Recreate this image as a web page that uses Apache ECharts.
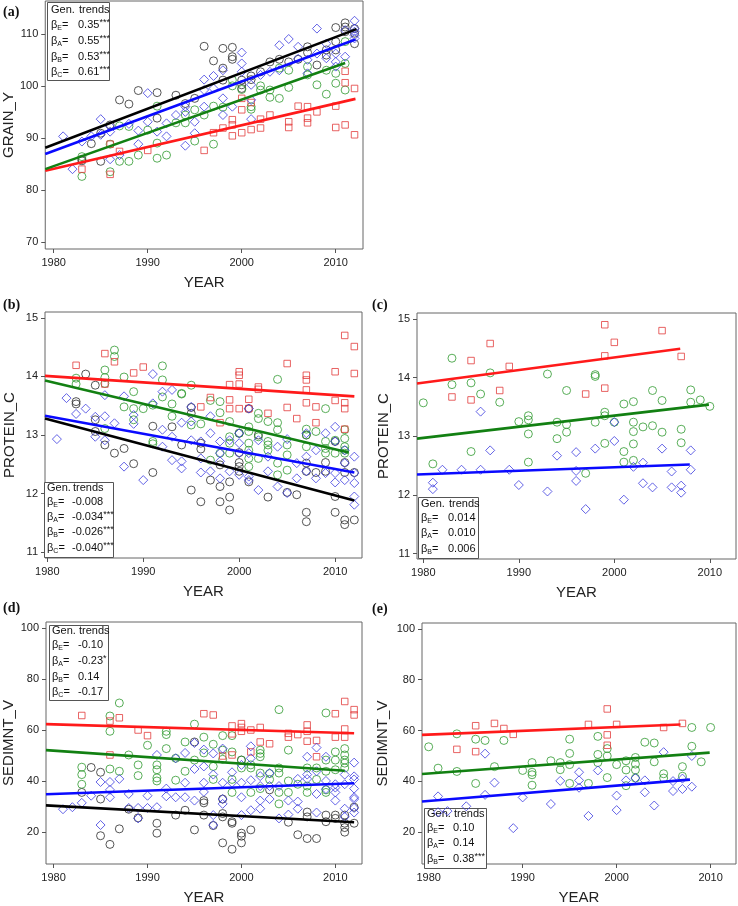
<!DOCTYPE html>
<html><head><meta charset="utf-8">
<script src="https://cdn.jsdelivr.net/npm/echarts@6/dist/echarts.min.js"></script>
<style>html,body{margin:0;padding:0;background:#fff}#c{width:738px;height:906px}</style>
</head><body><div id="c"></div>
<script>
// ---------- tick labels ----------
const xTicks = [1980, 1990, 2000, 2010];
const aYTicks = [70, 80, 90, 100, 110];
const bcYTicks = [11, 12, 13, 14, 15];
const deYTicks = [20, 40, 60, 80, 100];

// ---------- panel (a) GRAIN_Y ----------
const aBlack = [[1983,85.6],[1983,85.9],[1984,88.9],[1985,85.5],[1985,90.9],[1986,92.5],[1987,97.3],[1988,96.5],[1989,99.1],[1991,98.7],[1991,93.8],[1993,98.2],[1994,96.6],[1995,97.6],[1996,107.6],[1997,104.8],[1998,107.2],[1998,103.4],[1998,101.1],[1999,107.4],[1999,105.6],[1999,105.1],[2000,101.1],[2000,100.2],[2000,99.5],[2001,101.9],[2001,101.2],[2002,102.7],[2003,104.6],[2004,105.1],[2005,104.6],[2006,105.1],[2007,107.5],[2007,106.4],[2008,104.0],[2009,106.9],[2009,105.9],[2010,111.2],[2010,108.5],[2010,106.9],[2011,112.1],[2011,111.3],[2011,110.4],[2012,110.1],[2012,108.1],[2012,111.0]];
const aBlue = [[1981,90.3],[1982,84.0],[1983,89.3],[1984,90.3],[1985,93.6],[1985,90.6],[1986,85.9],[1986,91.2],[1986,92.2],[1987,86.7],[1988,92.7],[1989,91.4],[1989,88.8],[1990,98.6],[1990,93.1],[1991,91.2],[1992,92.8],[1992,90.3],[1993,94.4],[1994,88.5],[1994,96.0],[1994,95.0],[1995,93.1],[1995,90.9],[1996,101.2],[1996,99.2],[1996,96.0],[1997,101.9],[1997,99.5],[1998,103.0],[1998,94.4],[1998,97.6],[1999,96.0],[2000,106.4],[2000,104.3],[2000,102.7],[2001,100.2],[2001,97.3],[2001,93.6],[2002,102.1],[2003,102.7],[2004,107.8],[2004,103.0],[2005,109.0],[2006,107.5],[2006,105.2],[2007,105.0],[2007,102.4],[2008,111.0],[2008,106.2],[2009,108.1],[2009,105.3],[2010,106.2],[2010,104.6],[2010,103.7],[2011,110.7],[2011,105.6],[2012,112.5],[2012,111.0],[2012,110.4],[2012,109.7],[2012,109.1]];
const aGreen = [[1983,86.4],[1983,82.6],[1986,88.8],[1986,83.5],[1987,92.3],[1987,85.5],[1988,85.5],[1988,92.2],[1989,86.7],[1990,91.5],[1991,96.1],[1991,89.0],[1991,86.1],[1992,86.7],[1993,92.9],[1994,94.4],[1994,92.9],[1995,95.4],[1995,89.4],[1996,94.4],[1997,96.1],[1997,88.8],[1998,95.9],[1999,101.1],[1999,100.0],[2000,99.3],[2001,96.0],[2001,95.5],[2002,100.0],[2002,99.2],[2003,99.2],[2003,97.8],[2004,103.4],[2004,97.6],[2005,99.7],[2005,103.0],[2007,103.7],[2007,102.1],[2008,100.2],[2009,103.0],[2009,98.4],[2010,100.5],[2010,102.4],[2011,108.5],[2011,104.3],[2011,99.2]];
const aRed = [[1983,84.0],[1986,88.8],[1986,83.0],[1987,87.4],[1990,87.6],[1996,87.6],[1997,91.0],[1998,91.9],[1999,93.5],[1999,92.5],[1999,90.4],[2000,97.6],[2000,95.4],[2000,91.0],[2001,96.8],[2001,91.6],[2002,93.6],[2002,91.9],[2003,94.4],[2005,93.1],[2005,92.0],[2006,96.1],[2007,96.0],[2007,93.8],[2007,92.9],[2008,95.0],[2010,96.1],[2010,92.0],[2011,102.8],[2011,100.6],[2011,92.5],[2012,99.5],[2012,90.6]];
const aTrendBlack = [[1979.1,88.1],[2012.2,110.9]];
const aTrendBlue = [[1979.1,86.9],[2012.1,108.9]];
const aTrendGreen = [[1979.1,84.0],[2011.0,104.4]];
const aTrendRed = [[1979.1,83.7],[2012.1,97.5]];
const aBetas = [['E','0.35','***'],['A','0.55','***'],['B','0.53','***'],['C','0.61','***']];

// ---------- panel (b) PROTEIN_C ----------
const bRed = [[1983,14.19],[1986,14.39],[1986,13.87],[1987,14.25],[1989,14.06],[1990,14.16],[1996,13.48],[1997,13.64],[1998,13.21],[1999,13.86],[1999,13.60],[1999,13.45],[2000,14.08],[2000,14.02],[2000,13.87],[2000,13.45],[2001,13.61],[2001,13.45],[2002,13.82],[2002,13.78],[2003,13.37],[2005,14.22],[2005,13.47],[2006,13.28],[2007,14.02],[2007,13.94],[2007,13.77],[2007,13.55],[2008,13.48],[2008,13.21],[2010,14.08],[2010,13.59],[2011,14.70],[2011,13.55],[2011,13.45],[2011,13.10],[2012,14.51],[2012,14.05]];
const bGreen = [[1983,13.97],[1983,13.87],[1986,14.11],[1986,13.98],[1986,13.88],[1986,13.11],[1987,14.45],[1987,14.34],[1988,13.99],[1988,13.48],[1989,13.74],[1989,13.45],[1989,13.26],[1990,13.45],[1991,13.51],[1991,12.89],[1991,12.85],[1992,14.18],[1992,13.94],[1992,13.65],[1993,13.53],[1993,13.32],[1994,13.71],[1994,13.70],[1995,13.85],[1995,13.17],[1996,13.19],[1997,13.59],[1997,12.57],[1998,13.57],[1998,13.38],[1998,12.69],[1999,13.23],[1999,12.97],[1999,12.86],[1999,12.69],[2000,13.03],[2001,13.14],[2001,13.06],[2001,12.86],[2001,12.74],[2001,12.60],[2001,12.46],[2002,13.37],[2002,13.28],[2002,12.97],[2002,12.60],[2003,13.23],[2003,12.89],[2003,12.83],[2003,12.74],[2004,13.95],[2004,13.21],[2004,13.09],[2004,12.52],[2004,12.32],[2005,12.83],[2005,12.66],[2005,12.40],[2007,13.10],[2007,13.00],[2007,12.80],[2008,13.06],[2009,13.45],[2009,12.89],[2009,12.77],[2009,12.69],[2010,12.91],[2010,12.69],[2011,13.09],[2011,12.94],[2011,12.80],[2011,12.74],[2011,12.69]];
const bBlue = [[1981,12.93],[1982,13.63],[1983,13.36],[1984,13.45],[1985,13.31],[1985,12.97],[1986,13.68],[1986,13.32],[1986,12.91],[1987,13.20],[1988,13.66],[1988,12.46],[1989,13.34],[1989,13.19],[1990,12.23],[1991,14.04],[1991,13.54],[1992,13.74],[1992,13.09],[1992,12.80],[1993,13.77],[1993,12.97],[1993,12.57],[1994,13.21],[1994,12.55],[1994,12.43],[1995,13.48],[1995,13.23],[1995,12.91],[1996,12.89],[1996,12.60],[1996,12.36],[1997,13.32],[1997,13.03],[1997,12.38],[1998,12.89],[1998,12.69],[1998,12.55],[1998,12.26],[1999,12.91],[1999,12.38],[2000,13.03],[2000,12.86],[2000,12.69],[2000,12.32],[2001,13.45],[2001,12.69],[2001,12.29],[2001,12.23],[2002,12.91],[2002,12.06],[2003,12.63],[2003,12.38],[2004,12.80],[2004,12.12],[2005,12.93],[2005,12.01],[2006,12.52],[2006,12.26],[2007,13.03],[2007,12.63],[2007,12.38],[2008,12.74],[2008,12.26],[2009,13.03],[2009,12.35],[2010,13.14],[2010,12.89],[2010,12.35],[2010,12.19],[2011,12.74],[2011,12.52],[2011,12.23],[2012,12.63],[2012,12.35],[2012,12.18],[2012,11.95],[2012,11.81]];
const bBlack = [[1983,13.57],[1983,13.53],[1984,14.04],[1985,13.85],[1985,13.26],[1985,13.06],[1986,12.83],[1987,12.69],[1988,12.77],[1989,12.51],[1991,13.15],[1991,12.36],[1993,13.14],[1994,12.83],[1995,13.47],[1995,13.37],[1995,12.06],[1996,12.86],[1996,12.76],[1996,11.86],[1997,12.23],[1998,12.49],[1998,12.12],[1998,11.86],[1999,12.20],[1999,11.94],[1999,11.72],[2000,13.03],[2000,12.70],[2000,12.53],[2000,12.46],[2000,12.38],[2001,13.45],[2001,12.20],[2002,13.00],[2003,11.94],[2005,12.02],[2006,11.98],[2007,13.00],[2007,12.52],[2007,12.38],[2007,11.68],[2007,11.52],[2008,12.36],[2009,12.53],[2009,12.38],[2010,12.89],[2010,11.95],[2010,11.68],[2011,12.53],[2011,12.36],[2011,11.55],[2011,11.47],[2012,12.36],[2012,11.55]];
const bTrendRed = [[1979.76,14.01],[2012,13.66]];
const bTrendGreen = [[1979.76,13.93],[2011.4,12.70]];
const bTrendBlue = [[1979.76,13.33],[2012,12.36]];
const bTrendBlack = [[1979.76,13.28],[2012,11.88]];
const bBetas = [['E','-0.008',''],['A','-0.034','***'],['B','-0.026','***'],['C','-0.040','***']];

// ---------- panel (c) PROTEIN_C ----------
const cRed = [[1983,13.67],[1985,14.29],[1985,13.62],[1987,14.58],[1988,13.78],[1989,14.19],[1997,13.72],[1999,14.90],[1999,14.37],[1999,13.82],[2000,14.60],[2005,14.80],[2007,14.36]];
const cGreen = [[1980,13.57],[1981,12.53],[1983,14.33],[1983,13.88],[1985,13.91],[1985,12.74],[1986,13.72],[1987,14.08],[1988,13.58],[1990,13.25],[1991,13.35],[1991,13.28],[1991,13.04],[1991,12.56],[1993,14.06],[1994,13.24],[1994,12.96],[1995,13.78],[1995,13.20],[1995,13.07],[1997,12.37],[1998,14.05],[1998,14.02],[1998,13.24],[1999,13.41],[1999,13.35],[1999,12.88],[2000,13.24],[2001,13.55],[2001,12.74],[2001,12.56],[2002,13.59],[2002,13.24],[2002,13.08],[2002,12.87],[2002,12.59],[2003,13.16],[2004,13.78],[2004,13.18],[2005,13.61],[2005,13.07],[2007,13.12],[2007,12.89],[2008,13.79],[2008,13.58],[2009,13.62],[2010,13.51]];
const cBlue = [[1981,12.21],[1981,12.10],[1982,12.43],[1984,12.43],[1986,13.42],[1986,12.43],[1987,12.76],[1989,12.43],[1990,12.17],[1993,12.06],[1994,12.67],[1996,12.73],[1996,12.41],[1996,12.24],[1997,11.76],[1998,12.79],[2000,13.24],[2000,12.92],[2001,11.92],[2002,12.48],[2003,12.55],[2003,12.20],[2004,12.13],[2005,12.79],[2006,12.40],[2006,12.13],[2007,12.16],[2007,12.04],[2008,12.76],[2008,12.43]];
const cTrendRed = [[1979.34,13.90],[2006.9,14.49]];
const cTrendGreen = [[1979.34,12.96],[2009.9,13.54]];
const cTrendBlue = [[1979.34,12.35],[2007.9,12.52]];
const cBetas = [['E','0.014',''],['A','0.010',''],['B','0.006','']];

// ---------- panel (d) SEDIMNT_V ----------
const dRed = [[1983,65.8],[1986,63.6],[1986,50.3],[1987,64.9],[1989,60.1],[1990,57.9],[1996,66.5],[1997,66.0],[1998,49.9],[1999,61.7],[1999,58.6],[1999,50.3],[2000,62.6],[2000,61.1],[2000,59.6],[2001,60.1],[2001,51.5],[2002,61.1],[2002,55.4],[2003,54.7],[2005,58.8],[2005,57.3],[2006,58.3],[2007,62.1],[2007,59.6],[2007,55.7],[2008,56.0],[2008,49.6],[2010,66.5],[2010,57.3],[2011,71.3],[2011,60.5],[2011,57.3],[2012,68.1],[2012,66.0]];
const dGreen = [[1983,45.5],[1983,42.6],[1983,38.8],[1986,65.6],[1986,59.6],[1986,44.8],[1987,70.7],[1987,43.9],[1988,50.3],[1989,46.4],[1989,42.2],[1990,54.1],[1991,46.4],[1991,44.5],[1991,41.3],[1991,40.1],[1992,59.6],[1992,58.3],[1992,52.8],[1993,49.0],[1993,40.4],[1994,55.4],[1994,43.9],[1995,62.4],[1995,48.3],[1996,57.3],[1996,51.1],[1997,54.5],[1997,45.8],[1997,40.7],[1998,57.9],[1998,52.2],[1998,48.6],[1999,57.9],[1999,51.5],[1999,40.7],[1999,35.6],[2000,48.3],[2000,45.2],[2001,46.4],[2001,45.2],[2001,35.6],[2002,52.2],[2002,50.9],[2002,49.6],[2002,43.2],[2002,37.1],[2003,43.0],[2003,40.7],[2004,68.1],[2004,45.2],[2004,43.2],[2004,35.6],[2004,31.1],[2005,52.2],[2005,40.1],[2005,35.6],[2006,38.8],[2007,45.2],[2007,38.1],[2007,35.6],[2008,45.2],[2008,40.7],[2009,66.8],[2009,48.3],[2009,43.9],[2009,36.6],[2009,35.6],[2010,51.5],[2010,48.3],[2010,44.5],[2011,52.8],[2011,50.3],[2011,48.3],[2011,47.1],[2011,45.2]];
const dBlue = [[1981,29.0],[1982,29.8],[1983,31.5],[1984,34.3],[1985,39.7],[1985,22.8],[1986,39.7],[1986,36.6],[1986,33.7],[1987,40.9],[1988,35.0],[1988,29.5],[1989,29.5],[1989,25.4],[1990,34.3],[1990,29.5],[1991,50.3],[1991,29.8],[1992,37.1],[1992,34.1],[1993,49.0],[1993,33.7],[1994,51.1],[1994,39.4],[1994,33.7],[1995,55.0],[1995,44.8],[1995,32.4],[1996,52.4],[1996,45.8],[1996,39.4],[1996,35.8],[1997,50.9],[1997,42.6],[1997,26.7],[1997,22.8],[1998,52.8],[1998,39.4],[1998,33.0],[1998,31.1],[1999,43.5],[1999,39.4],[2000,46.4],[2000,39.4],[2000,33.7],[2000,26.7],[2001,53.7],[2001,49.0],[2001,40.4],[2001,28.6],[2002,42.0],[2002,38.1],[2002,32.4],[2002,29.2],[2003,43.2],[2003,38.1],[2003,33.0],[2004,38.1],[2004,25.4],[2005,32.4],[2005,26.9],[2006,40.9],[2006,32.0],[2006,29.2],[2007,49.6],[2007,42.6],[2007,40.9],[2008,53.2],[2008,43.9],[2008,35.0],[2008,27.7],[2009,49.6],[2009,40.1],[2009,36.9],[2010,38.8],[2010,37.5],[2010,35.6],[2010,32.4],[2011,42.6],[2011,38.8],[2011,29.2],[2011,26.0],[2012,47.3],[2012,41.9],[2012,40.7],[2012,37.1],[2012,33.7],[2012,33.0],[2012,29.5],[2012,27.7]];
const dBlack = [[1983,35.6],[1984,45.4],[1985,43.5],[1985,33.0],[1985,18.6],[1986,15.2],[1987,21.3],[1988,29.0],[1989,25.6],[1991,23.5],[1991,19.6],[1993,26.7],[1994,28.6],[1995,55.4],[1995,20.9],[1996,32.4],[1996,31.5],[1996,26.7],[1997,22.6],[1998,33.0],[1998,27.3],[1998,26.0],[1998,15.8],[1999,24.1],[1999,23.5],[1999,13.3],[2000,48.3],[2000,19.6],[2000,18.4],[2000,15.8],[2001,20.9],[2003,36.6],[2005,23.9],[2006,19.0],[2007,27.9],[2007,26.0],[2007,17.5],[2008,17.5],[2009,26.7],[2009,24.1],[2010,26.7],[2010,25.4],[2011,26.7],[2011,23.5],[2011,21.8],[2011,20.0],[2012,29.8],[2012,23.5]];
const dTrendRed = [[1979.19,62.4],[2012,58.8]];
const dTrendGreen = [[1979.19,52.2],[2011,44.1]];
const dTrendBlue = [[1979.19,34.9],[2012,39.2]];
const dTrendBlack = [[1979.19,30.5],[2012,23.9]];
const dBetas = [['E','-0.10',''],['A','-0.23','*'],['B','0.14',''],['C','-0.17','']];

// ---------- panel (e) SEDIMNT_V ----------
const eRed = [[1983,52.6],[1985,61.9],[1985,51.7],[1987,62.8],[1988,60.8],[1989,58.5],[1997,62.4],[1999,68.5],[1999,58.3],[1999,54.2],[2000,62.4],[2005,61.2],[2007,62.8]];
const eGreen = [[1980,53.6],[1981,45.2],[1983,58.7],[1983,43.9],[1985,56.6],[1985,39.2],[1986,56.1],[1987,45.8],[1988,56.1],[1990,44.3],[1991,47.4],[1991,43.6],[1991,42.6],[1991,38.5],[1993,48.1],[1994,47.4],[1994,44.6],[1995,56.6],[1995,51.0],[1995,46.6],[1995,39.2],[1997,39.2],[1998,57.7],[1998,50.6],[1998,47.4],[1999,52.9],[1999,50.0],[1999,41.5],[2000,46.6],[2001,48.1],[2001,44.5],[2001,38.3],[2002,49.4],[2002,46.8],[2002,44.5],[2002,41.3],[2003,55.4],[2004,55.1],[2004,47.7],[2005,43.0],[2005,41.3],[2007,45.8],[2007,42.0],[2008,61.2],[2008,53.8],[2009,47.7],[2010,61.2]];
const eBlue = [[1981,34.1],[1981,27.9],[1982,28.3],[1984,30.2],[1986,50.9],[1986,34.7],[1987,39.5],[1989,21.6],[1990,33.7],[1993,31.1],[1994,40.2],[1996,43.6],[1996,40.4],[1996,37.5],[1997,26.4],[1998,44.3],[2000,34.4],[2000,28.7],[2001,40.4],[2002,41.3],[2003,40.4],[2003,35.7],[2004,30.5],[2005,51.5],[2006,40.1],[2006,36.2],[2007,41.1],[2007,37.0],[2008,50.0],[2008,37.9]];
const eTrendRed = [[1979.29,58.3],[2006.8,62.4]];
const eTrendGreen = [[1979.29,42.9],[2009.9,51.3]];
const eTrendBlue = [[1979.29,32.1],[2007.8,40.7]];
const eBetas = [['E','0.10',''],['A','0.14',''],['B','0.38','***']];

// ---------- styling / layout ----------
const FONT = 'Liberation Sans, Arial, sans-serif';
const MK = {black:'#2b2b2b', blue:'#3c3ce0', green:'#2f9a2f', red:'#e23c3c'};
const LN = {black:'#000000', blue:'#0a0aff', green:'#128012', red:'#ff1a1a'};
const SYM = {black:['circle',8], blue:['diamond',9], green:['circle',8], red:['rect',6.5]};

const panels = [
  {grid:{left:45, top:1, width:318, height:248}, x:[1979.1,2012.9], y:[68.66,116.3], yTicks:aYTicks, yName:'GRAIN_Y', yGap:28,
   pts:{black:aBlack, green:aGreen, red:aRed, blue:aBlue}, trends:{red:aTrendRed, green:aTrendGreen, blue:aTrendBlue, black:aTrendBlack}},
  {grid:{left:45, top:312, width:317, height:246}, x:[1979.76,2012.8], y:[10.9,15.1], yTicks:bcYTicks, yName:'PROTEIN_C', yGap:28,
   pts:{black:bBlack, green:bGreen, red:bRed, blue:bBlue}, trends:{red:bTrendRed, green:bTrendGreen, blue:bTrendBlue, black:bTrendBlack}},
  {grid:{left:417, top:313, width:319, height:246}, x:[1979.34,2012.74], y:[10.91,15.1], yTicks:bcYTicks, yName:'PROTEIN_C', yGap:26,
   pts:{green:cGreen, red:cRed, blue:cBlue}, trends:{red:cTrendRed, green:cTrendGreen, blue:cTrendBlue}},
  {grid:{left:46, top:622, width:316, height:248}, x:[1979.19,2012.84], y:[7.5,102.5], yTicks:deYTicks, yName:'SEDIMNT_V', yGap:29,
   pts:{black:dBlack, green:dGreen, red:dRed, blue:dBlue}, trends:{red:dTrendRed, green:dTrendGreen, blue:dTrendBlue, black:dTrendBlack}},
  {grid:{left:422, top:623, width:314, height:248}, x:[1979.29,2012.7], y:[7.5,102.3], yTicks:deYTicks, yName:'SEDIMNT_V', yGap:32,
   pts:{green:eGreen, red:eRed, blue:eBlue}, trends:{red:eTrendRed, green:eTrendGreen, blue:eTrendBlue}}
];

const plain = v => String(v);
const grids = [], xAxes = [], yAxes = [], series = [];
panels.forEach((p, i) => {
  grids.push(Object.assign({show:true, borderColor:'#666', borderWidth:1, backgroundColor:'transparent'}, p.grid));
  xAxes.push({type:'value', gridIndex:i, min:p.x[0], max:p.x[1],
    axisLine:{show:false}, splitLine:{show:false},
    axisTick:{show:true, inside:false, length:4, customValues:xTicks, lineStyle:{color:'#555'}},
    axisLabel:{customValues:xTicks, formatter:plain, margin:8, fontSize:11, color:'#222', fontFamily:FONT},
    name:'YEAR', nameLocation:'middle', nameGap:26, nameTextStyle:{fontSize:15, color:'#222', fontFamily:FONT}});
  yAxes.push({type:'value', gridIndex:i, min:p.y[0], max:p.y[1],
    axisLine:{show:false}, splitLine:{show:false},
    axisTick:{show:true, inside:false, length:4, customValues:p.yTicks, lineStyle:{color:'#555'}},
    axisLabel:{customValues:p.yTicks, formatter:plain, margin:7, fontSize:11, color:'#222', fontFamily:FONT},
    name:p.yName, nameLocation:'middle', nameGap:p.yGap, nameRotate:90, nameTextStyle:{fontSize:15, color:'#222', fontFamily:FONT}});
  Object.keys(p.pts).forEach(k => {
    series.push({type:'scatter', xAxisIndex:i, yAxisIndex:i, data:p.pts[k], symbol:SYM[k][0], symbolSize:SYM[k][1],
      itemStyle:{color:'rgba(255,255,255,0)', borderColor:MK[k], borderWidth:1}, z:3, silent:true});
  });
  Object.keys(p.trends).forEach(k => {
    series.push({type:'line', xAxisIndex:i, yAxisIndex:i, data:p.trends[k], showSymbol:false, symbol:'none',
      lineStyle:{color:LN[k], width:2.6}, z:4, silent:true});
  });
});

// ---------- legends (beta boxes) ----------
const legendSpecs = [
  {box:[47,2,62,78], gen:10, rows:[25,41,57,72], bx:51, vx:78, tx:79, betas:aBetas},
  {box:[44,482,69,75], gen:488, rows:[502,517,532,548], bx:47, vx:72, tx:73, betas:bBetas},
  {box:[418,497,60,61], gen:504, rows:[518,533,549], bx:421, vx:448, tx:449, betas:cBetas},
  {box:[49,625,59,75], gen:631, rows:[645,661,677,692], bx:52, vx:78, tx:79, betas:dBetas},
  {box:[424,808,62,60], gen:814, rows:[828,843,859], bx:427, vx:453, tx:454, betas:eBetas}
];
const graphics = [];
const rich = {
  b:{fontSize:11, fontFamily:FONT, fill:'#111', lineHeight:14, verticalAlign:'middle'},
  s:{fontSize:7, fontFamily:FONT, fill:'#111', lineHeight:7, verticalAlign:'bottom'},
  v:{fontSize:11, fontFamily:FONT, fill:'#111', lineHeight:14, verticalAlign:'middle'},
  st:{fontSize:9, fontFamily:FONT, fill:'#111', lineHeight:9, verticalAlign:'top'}
};
legendSpecs.forEach(L => {
  graphics.push({type:'rect', shape:{x:L.box[0]+0.5, y:L.box[1]+0.5, width:L.box[2], height:L.box[3]},
    style:{fill:'#fff', stroke:'#555', lineWidth:1}, z:1, silent:true});
  graphics.push({type:'text', x:L.bx, y:L.gen, style:{text:'Gen.', fontSize:11, fontFamily:FONT, fill:'#111', verticalAlign:'middle'}, z:2});
  graphics.push({type:'text', x:L.tx, y:L.gen, style:{text:'trends', fontSize:11, fontFamily:FONT, fill:'#111', verticalAlign:'middle'}, z:2});
  L.betas.forEach((b, j) => {
    graphics.push({type:'text', x:L.bx, y:L.rows[j], style:{text:'{b|β}{s|' + b[0] + '}{b|=}', rich:rich, verticalAlign:'middle'}, z:2});
    graphics.push({type:'text', x:L.vx, y:L.rows[j], style:{text:'{v|' + b[1] + '}' + (b[2] ? '{st|' + b[2] + '}' : ''), rich:rich, verticalAlign:'middle'}, z:2});
  });
});
// panel letters
[['(a)',3,5],['(b)',3,298],['(c)',372,298],['(d)',3,601],['(e)',372,602]].forEach(t => {
  graphics.push({type:'text', x:t[1], y:t[2], style:{text:t[0], fontSize:14, fontWeight:'bold', fontFamily:'Liberation Serif, Times New Roman, serif', fill:'#111'}, z:2});
});

const chart = echarts.init(document.getElementById('c'), null, {renderer:'canvas'});
chart.setOption({
  animation:false, backgroundColor:'#fff',
  grid:grids, xAxis:xAxes, yAxis:yAxes, series:series, graphic:graphics
});
</script></body></html>
